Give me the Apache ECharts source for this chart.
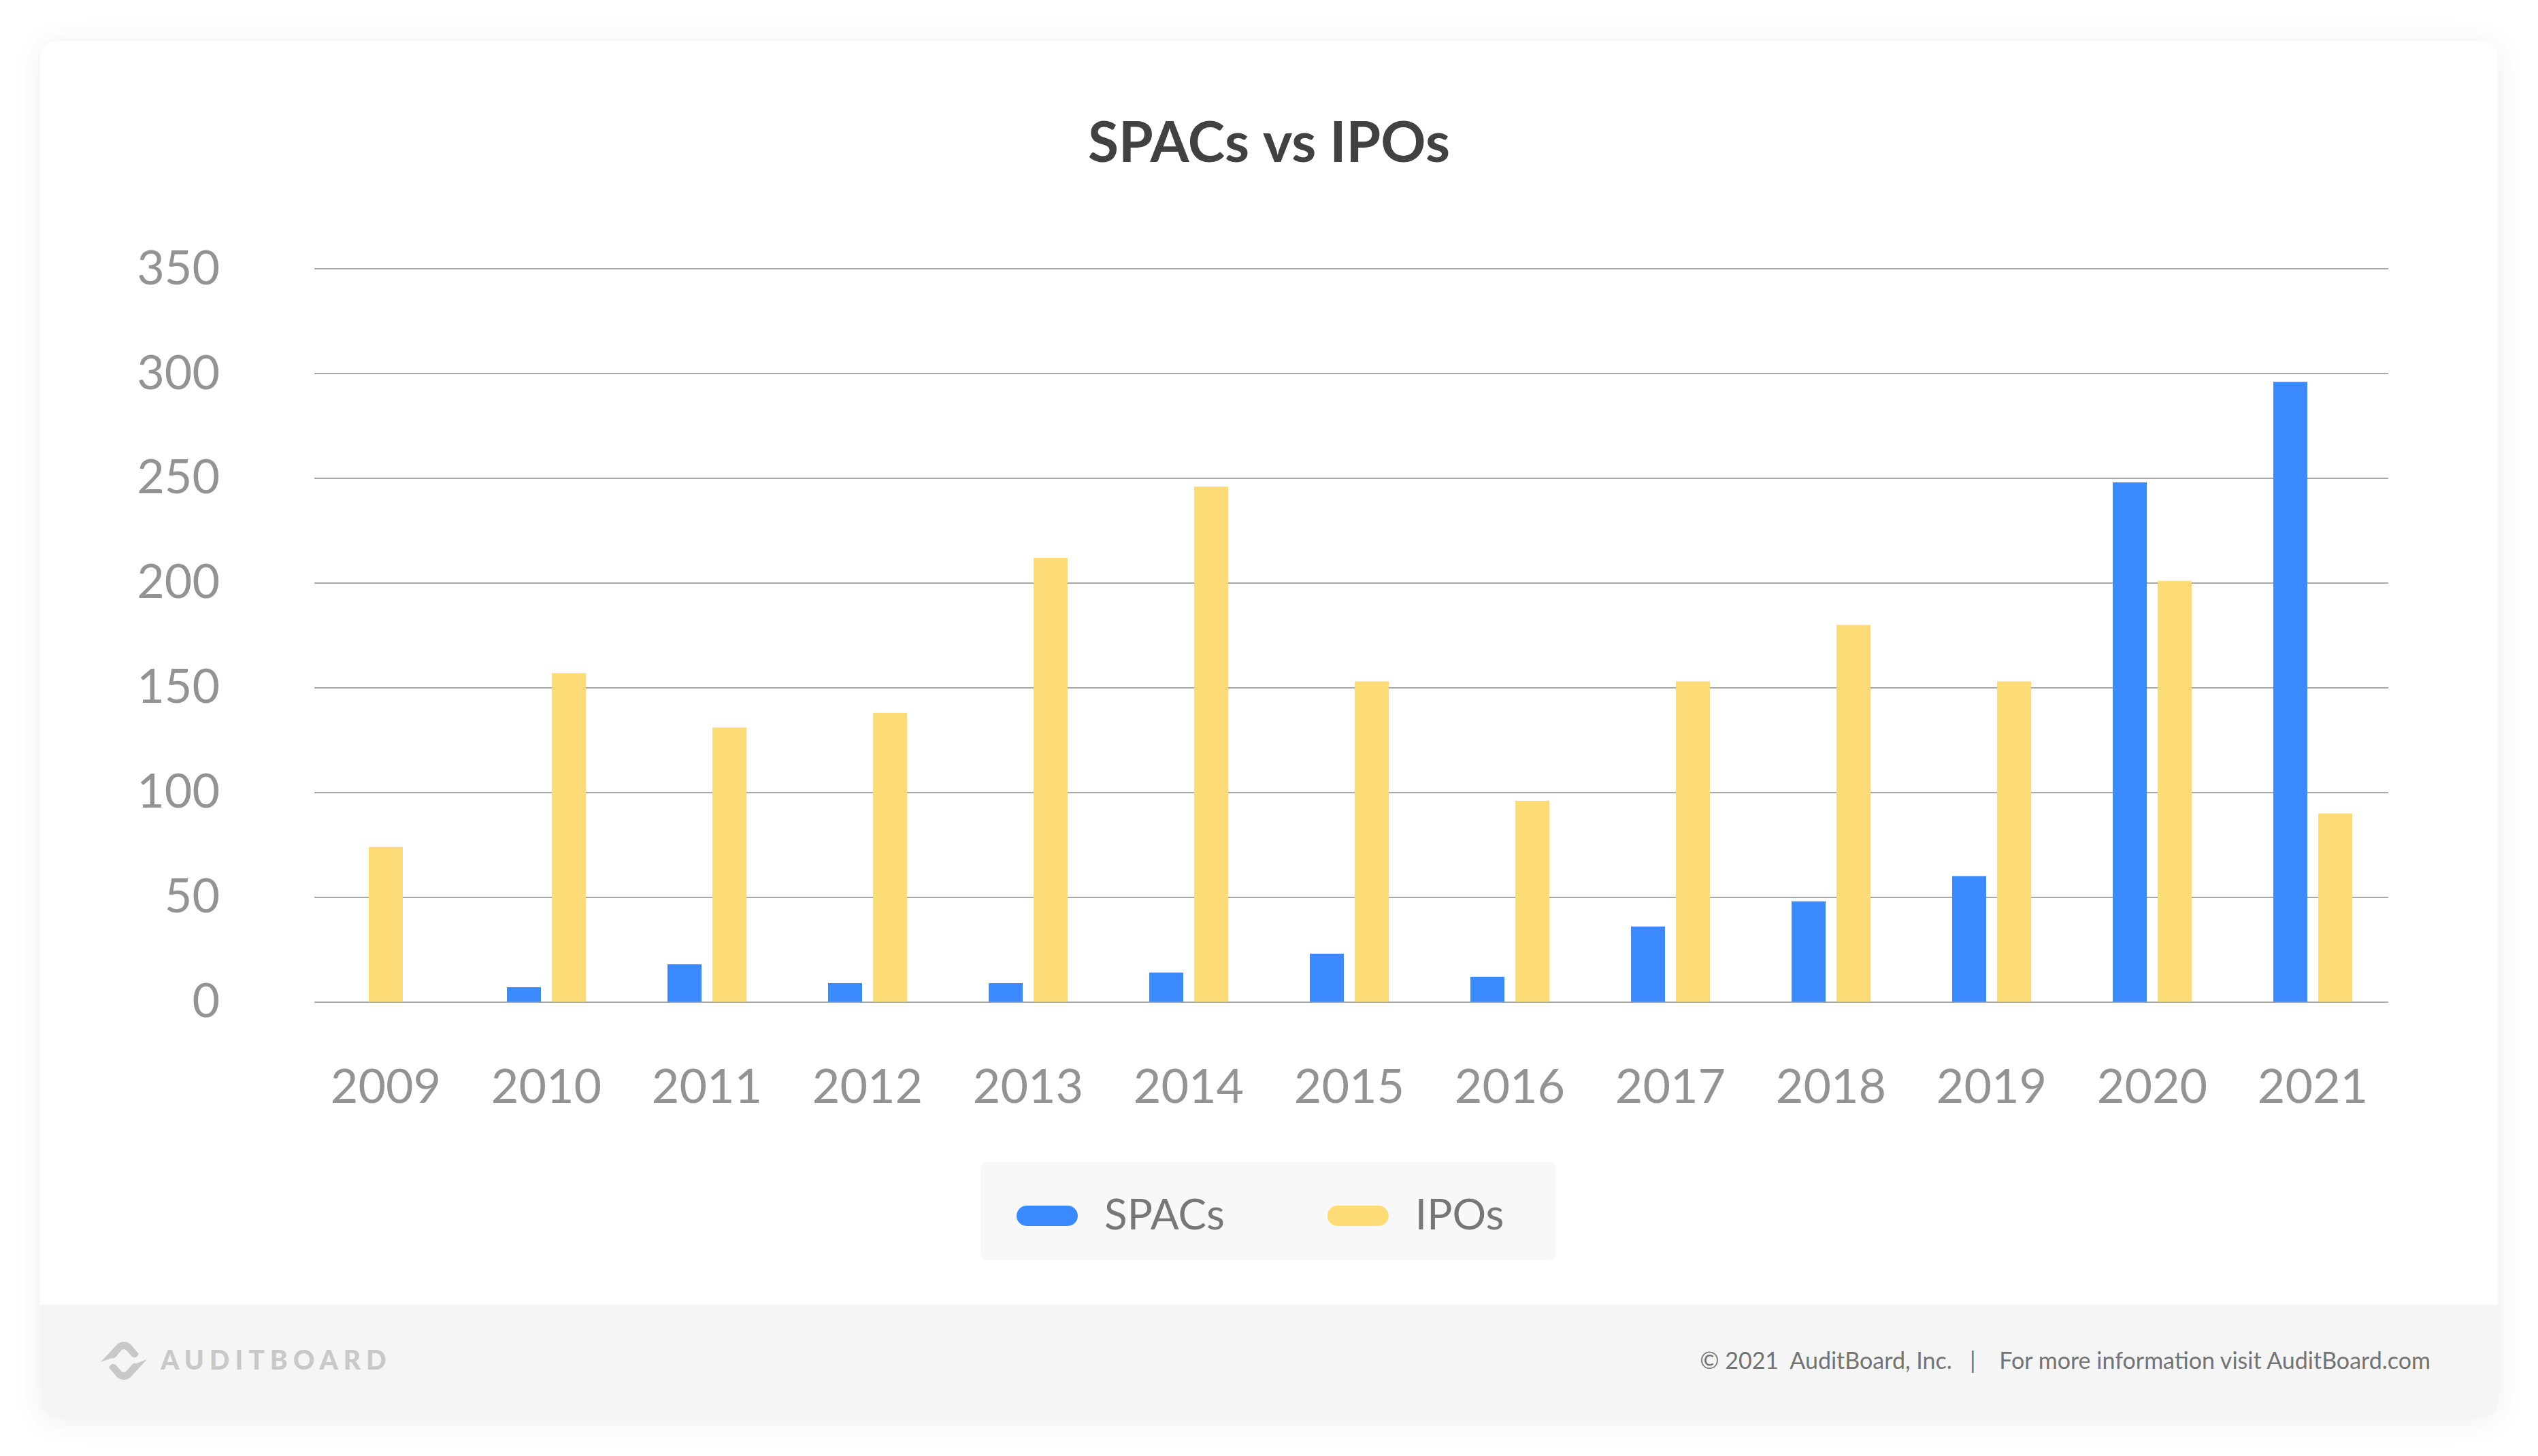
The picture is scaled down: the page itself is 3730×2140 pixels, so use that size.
<!DOCTYPE html>
<html>
<head>
<meta charset="utf-8">
<script src="https://cdn.jsdelivr.net/npm/echarts@6/dist/echarts.min.js"></script>
<style>
  html, body { margin:0; padding:0; width:3730px; height:2140px; background:#ffffff; overflow:hidden; }
  #card { position:absolute; left:59px; top:60px; width:3612px; height:2024px; background:#fff;
          border-radius:24px; box-shadow:0 4px 44px rgba(0,0,0,0.07); overflow:hidden; }
  #footer { position:absolute; left:0; top:1858px; width:3612px; height:166px; background:#f5f5f5; }
  #chart { position:absolute; left:0; top:0; width:3730px; height:2140px; }
  #logo { position:absolute; left:142px; top:1972px; width:80px; height:56px; }
  #brand { position:absolute; left:236px; top:1979px; font-family:Lato, sans-serif; font-weight:900;
           font-size:39px; line-height:39px; letter-spacing:8px; color:#c8c8c8; white-space:nowrap; }
  #copy { position:absolute; right:158px; top:1982px; font-family:Lato, sans-serif; font-size:34px;
          line-height:34px; color:#737373; white-space:pre; }
</style>
</head>
<body>
<div id="card"><div id="footer"></div></div>
<svg id="logo" viewBox="0 0 80 56">
  <path d="M6 30 L30 4 Q40 -4 50 4 L62 18 Q58 26 52 22 L44 13 Q40 9 36 13 L30 20 Q26 26 22 24 Z" fill="#c8c8c8"/>
  <path d="M74 26 L50 52 Q40 60 30 52 L18 38 Q22 30 28 34 L36 43 Q40 47 44 43 L50 36 Q54 30 58 32 Z" fill="#c8c8c8"/>
</svg>
<div id="brand">AUDITBOARD</div>
<div id="copy">©&nbsp;2021  AuditBoard, Inc.   |    For more information visit AuditBoard.com</div>
<div id="chart"></div>
<script>
const years = ['2009','2010','2011','2012','2013','2014','2015','2016','2017','2018','2019','2020','2021'];
const spacs = [null, 7, 18, 9, 9, 14, 23, 12, 36, 48, 60, 248, 296];
const ipos  = [74, 157, 131, 138, 212, 246, 153, 96, 153, 180, 153, 201, 90];
const yMin = 0, yMax = 350, yStep = 50;

// IPO bars in years that also have a SPAC bar sit in the pair; others stand alone, centred
const iposPaired = ipos.map((v, i) => spacs[i] == null ? '-' : v);
const iposAlone  = ipos.map((v, i) => spacs[i] == null ? v : '-');
const spacData   = spacs.map(v => v == null ? '-' : v);

const BLUE = '#3a89fd', YELLOW = '#fddb76', GRID = '#a9a9a9', LABEL = '#939393';
const font = 'Lato, "Noto Sans", sans-serif';

const chart = echarts.init(document.getElementById('chart'), null, {renderer:'canvas'});
chart.setOption({
  backgroundColor: 'transparent',
  animation: false,
  title: {
    text: 'SPACs vs IPOs', left: 'center', top: 166,
    textStyle: { fontFamily: font, fontWeight: 'bold', fontSize: 82, color: '#414141' }
  },
  legend: {
    data: ['SPACs', 'IPOs'],
    left: 1441, top: 1708,
    backgroundColor: '#f8f8f8', borderRadius: 10,
    padding: [48, 76, 34, 53],
    itemWidth: 90, itemHeight: 31, itemGap: 151,
    icon: 'path://M15,0 H75 A15,15 0 0 1 75,30 H15 A15,15 0 0 1 15,0 Z',
    textStyle: { fontFamily: font, fontSize: 62, color: '#777777', padding: [0, 0, 0, 34] }
  },
  grid: [
    { left: 462, right: 220, top: 395, bottom: 667.4 },
    { left: 449, right: 213, top: 395, bottom: 667.4 }
  ],
  xAxis: [
    { gridIndex: 0, type: 'value', min: 0, max: 1, show: false },
    { gridIndex: 1, type: 'category', data: years,
      axisLine: { show: false }, axisTick: { show: false },
      axisLabel: { fontFamily: font, fontSize: 70, color: LABEL, margin: 91 } },
    { gridIndex: 1, type: 'category', data: years, show: false }
  ],
  yAxis: [
    { gridIndex: 0, type: 'value', min: yMin, max: yMax, interval: yStep,
      axisLine: { show: false }, axisTick: { show: false },
      axisLabel: { fontFamily: font, fontSize: 70, color: LABEL, margin: 139 },
      splitLine: { lineStyle: { color: GRID, width: 2 } } },
    { gridIndex: 1, type: 'value', min: yMin, max: yMax, interval: yStep, show: false,
      splitLine: { show: false } }
  ],
  series: [
    { name: 'SPACs', type: 'bar', xAxisIndex: 1, yAxisIndex: 1, data: spacData,
      barWidth: 50, barGap: '32%', itemStyle: { color: BLUE } },
    { name: 'IPOs', type: 'bar', xAxisIndex: 1, yAxisIndex: 1, data: iposPaired,
      barWidth: 50, barGap: '32%', itemStyle: { color: YELLOW } },
    { name: 'IPOs', type: 'bar', xAxisIndex: 2, yAxisIndex: 1, data: iposAlone,
      barWidth: 50, itemStyle: { color: YELLOW } }
  ]
});
</script>
</body>
</html>
